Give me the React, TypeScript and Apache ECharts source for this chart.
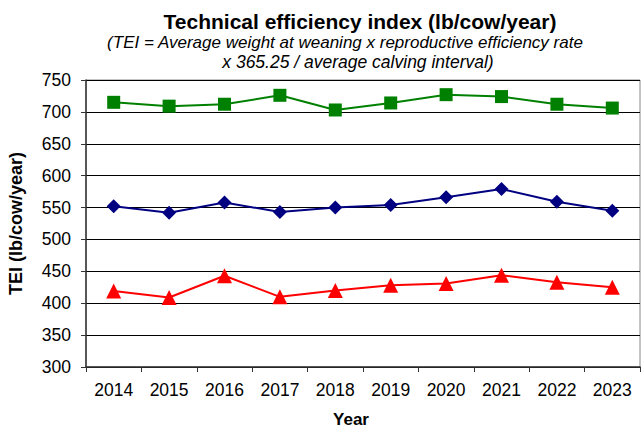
import React, { useEffect, useRef } from "react";
import * as echarts from "echarts";

const years = ["2014", "2015", "2016", "2017", "2018", "2019", "2020", "2021", "2022", "2023"];
const greenSeries = [715, 709, 712, 726, 703, 714, 727, 724, 712, 706];
const blueSeries = [552, 542, 558, 543, 550, 554, 566, 579, 559, 545];
const redSeries = [419, 409, 443, 410, 420, 428, 431, 444, 433, 425];

const titleText = "Technical efficiency index (lb/cow/year)";
const subtitleLines = [
  "(TEI = Average weight at weaning x reproductive efficiency rate",
  "x 365.25 / average calving interval)",
];
const yAxisName = "TEI (lb/cow/year)";
const xAxisName = "Year";

const FONT = "'Liberation Sans', Arial, sans-serif";

export default function App() {
  const ref = useRef<HTMLDivElement>(null);
  useEffect(() => {
    if (!ref.current) return;
    const chart = echarts.init(ref.current, undefined, { renderer: "svg" });
    chart.setOption({
      animation: false,
      backgroundColor: "#fff",
      textStyle: { fontFamily: FONT },
      graphic: [
        {
          type: "text",
          x: 360,
          y: 21,
          style: {
            text: titleText,
            font: `bold 21px ${FONT}`,
            fill: "#000",
            align: "center",
            verticalAlign: "middle",
          },
        },
        {
          type: "text",
          x: 345,
          y: 42,
          style: {
            text: subtitleLines[0],
            font: `italic 17px ${FONT}`,
            fill: "#000",
            align: "center",
            verticalAlign: "middle",
          },
        },
        {
          type: "text",
          x: 358,
          y: 62,
          style: {
            text: subtitleLines[1],
            font: `italic 17.5px ${FONT}`,
            fill: "#000",
            align: "center",
            verticalAlign: "middle",
          },
        },
        {
          type: "text",
          x: 351,
          y: 419,
          style: {
            text: xAxisName,
            font: `bold 17px ${FONT}`,
            fill: "#000",
            align: "center",
            verticalAlign: "middle",
          },
        },
      ],
      grid: {
        left: 86,
        right: 4,
        top: 80,
        bottom: 60,
        show: true,
        borderColor: "#888",
        borderWidth: 1,
        containLabel: false,
        outerBoundsMode: "none",
      },
      xAxis: {
        type: "category",
        data: years,
        boundaryGap: true,
        axisLine: { lineStyle: { color: "#333", width: 1.5 } },
        axisTick: { show: true, alignWithLabel: false, length: 5, lineStyle: { color: "#333" } },
        axisLabel: { fontFamily: FONT, fontSize: 17.5, color: "#000", margin: 14 },
        splitLine: { show: false },
      },
      yAxis: {
        type: "value",
        min: 300,
        max: 750,
        interval: 50,
        name: yAxisName,
        nameLocation: "middle",
        nameGap: 61,
        nameRotate: 90,
        nameTextStyle: { fontFamily: FONT, fontSize: 18, fontWeight: "bold", color: "#000" },
        axisLine: { show: true, lineStyle: { color: "#333", width: 1.5 } },
        axisTick: { show: true, length: 5, lineStyle: { color: "#333" } },
        axisLabel: { fontFamily: FONT, fontSize: 17.5, color: "#000", margin: 15 },
        splitLine: { show: true, lineStyle: { color: "#000", width: 1 } },
      },
      series: [
        {
          type: "line",
          data: greenSeries,
          symbol: "rect",
          symbolSize: 13,
          itemStyle: { color: "#008000" },
          lineStyle: { color: "#008000", width: 2 },
        },
        {
          type: "line",
          data: blueSeries,
          symbol: "diamond",
          symbolSize: 14,
          itemStyle: { color: "#000080" },
          lineStyle: { color: "#000080", width: 2 },
        },
        {
          type: "line",
          data: redSeries,
          symbol: "triangle",
          symbolSize: 15,
          itemStyle: { color: "#ff0000" },
          lineStyle: { color: "#ff0000", width: 2 },
        },
      ],
    });
    return () => chart.dispose();
  }, []);
  return <div ref={ref} style={{ width: 644, height: 427, position: "absolute", left: 0, top: 0 }} />;
}
